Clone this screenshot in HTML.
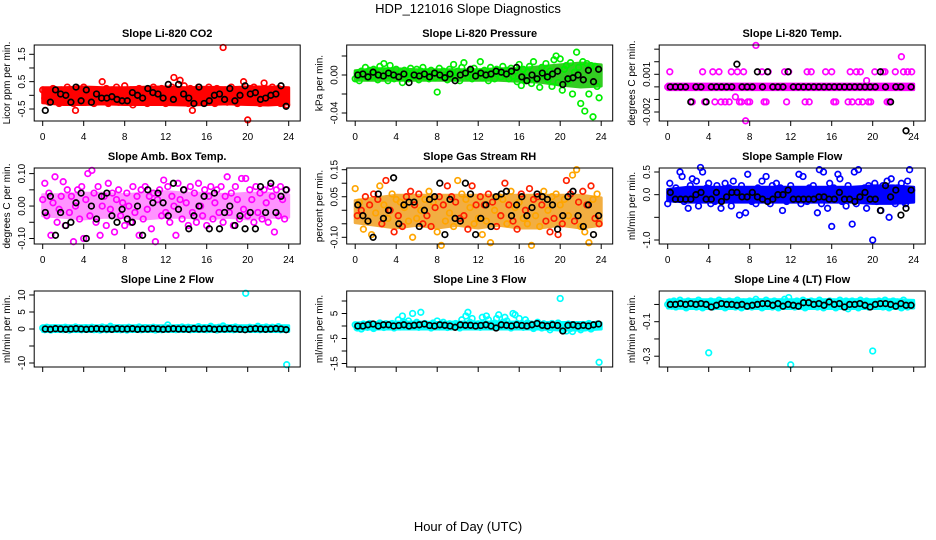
<!DOCTYPE html>
<html><head><meta charset="utf-8">
<style>
html,body{margin:0;padding:0;background:#fff;}
svg{display:block;font-family:"Liberation Sans",Arial,sans-serif;}
</style></head>
<body>
<svg id="chart" width="936" height="540" viewBox="0 0 936 540" xmlns="http://www.w3.org/2000/svg">
<rect x="0" y="0" width="936" height="540" fill="#fff"/>
<text x="468" y="13" text-anchor="middle" font-size="13">HDP_121016  Slope Diagnostics</text>
<text x="468" y="531" text-anchor="middle" font-size="13">Hour of Day (UTC)</text>
<g id="panels"></g>
</svg>
<script>
// ---- data: colored series sampled every 0.2 h (hours = index*0.2), black every 0.5 h from 0.25 h ----
// dense-cloud envelopes (low/high) every 2 hours: 0,2,...,24
const hourTicks = [0,4,8,12,16,20,24];
const hourTickLabels = ["0","4","8","12","16","20","24"];

const co2Vals = [0.2,-0.1,0.15,-0.25,0.1,0.25,-0.2,0.05,-0.3,0.2,
0.0,-0.15,0.3,-0.05,0.15,-0.3,-0.55,0.25,-0.2,0.05,
0.3,-0.25,0.1,-0.1,0.2,-0.3,0.15,0.0,-0.2,0.5,
-0.1,0.25,-0.3,0.05,0.2,-0.15,0.3,-0.25,0.1,-0.05,
0.35,-0.2,0.0,0.2,-0.35,0.15,-0.1,0.25,-0.25,0.05,
0.2,-0.3,0.1,-0.05,0.3,-0.2,0.15,-0.15,0.25,0.0,
-0.3,0.2,-0.1,0.3,0.65,-0.25,0.1,0.55,-0.2,0.35,
0.0,-0.3,0.25,-0.55,0.15,-0.1,0.3,-0.25,0.05,0.2,
-0.2,0.3,-0.05,0.1,-0.3,0.25,0.0,-0.15,1.75,0.2,
-0.25,0.15,0.3,-0.1,0.05,-0.3,0.2,0.1,0.5,-0.2,
-0.9,0.25,-0.15,0.3,-0.05,0.2,-0.3,0.1,0.45,-0.2,
0.15,-0.25,0.3,0.0,-0.1,0.25,-0.3,0.2,0.05,-0.35];
const co2Black = [-0.55,-0.25,0.2,0.05,0.0,-0.25,0.3,-0.2,0.2,-0.25,0.05,-0.1,-0.1,-0.05,-0.15,-0.2,-0.2,0.1,0.0,-0.1,0.25,0.1,0.05,-0.1,0.4,-0.15,0.4,0.05,-0.1,-0.3,0.3,-0.3,-0.2,0.0,0.05,-0.15,0.25,-0.2,0.0,0.35,0.05,0.1,-0.15,-0.1,0.0,0.05,0.35,-0.4];
const co2BandLo = [-0.22,-0.28,-0.28,-0.26,-0.28,-0.28,-0.28,-0.3,-0.28,-0.26,-0.28,-0.3,-0.26];
const co2BandHi = [0.22,0.22,0.25,0.22,0.22,0.24,0.25,0.22,0.24,0.22,0.25,0.25,0.22];

const presVals = [-0.004,0.002,-0.006,0.004,0.0,0.008,-0.003,0.005,-0.002,0.006,
0.003,-0.005,0.009,-0.001,0.012,0.004,-0.006,0.01,0.002,-0.004,
0.006,-0.002,0.003,-0.008,0.005,0.0,-0.004,0.007,0.002,-0.001,
0.006,-0.005,0.004,0.008,-0.002,0.003,-0.004,0.005,0.001,-0.003,
-0.018,0.007,-0.002,0.004,0.0,-0.005,0.006,0.002,0.011,-0.003,
0.004,-0.006,0.008,0.013,0.001,-0.002,0.005,-0.004,0.007,0.0,
0.003,0.014,-0.003,0.005,0.001,-0.006,0.008,0.002,-0.004,0.006,
0.003,-0.002,0.009,0.0,0.005,-0.004,0.007,-0.001,0.004,-0.007,
0.011,-0.011,0.006,-0.006,0.003,0.009,-0.009,0.014,-0.004,0.002,
-0.013,0.008,0.0,0.012,-0.005,0.004,-0.012,0.016,0.02,-0.008,
0.017,-0.016,0.006,0.01,-0.006,0.013,-0.02,0.003,0.024,0.008,
-0.03,0.014,-0.038,0.012,-0.02,0.01,-0.044,0.009,-0.012,-0.024];
const presBlack = [0.0,0.001,-0.002,0.003,0.0,-0.001,0.002,0.0,-0.002,0.001,-0.008,0.0,-0.001,0.001,-0.002,0.002,0.0,-0.003,0.001,-0.006,0.0,0.002,0.006,-0.001,0.002,0.0,0.001,0.004,0.003,0.001,0.004,0.008,-0.002,-0.006,0.0,-0.004,0.002,-0.002,0.001,0.004,-0.01,-0.004,-0.003,0.0,-0.005,0.005,-0.007,0.006];
const presBandLo = [-0.004,-0.004,-0.004,-0.004,-0.004,-0.004,-0.004,-0.004,-0.005,-0.006,-0.009,-0.011,-0.01];
const presBandHi = [0.003,0.005,0.005,0.004,0.004,0.004,0.004,0.005,0.005,0.007,0.009,0.011,0.009];

const tempVals = [0,0.0012,0,0,0,0,0,0,0,0,
0,0,-0.0012,0,0,0,0,0.0012,-0.0012,0,
0,0,0.0012,-0.0012,0,0.0012,-0.0012,0,-0.0012,0,
-0.0012,0.0012,0,-0.0008,0.0012,-0.0012,-0.0012,0.0012,-0.0027,-0.0012,
-0.0012,0,0,0.0033,0,0,0.0012,-0.0012,-0.0012,0.0012,
0,0,0,0,0,0,0,0.0012,-0.0012,0.0012,
0,0,0,0,0,0,0,-0.0012,0.0012,-0.0012,
0.0012,0,0,0,0,0,0,0.0012,0,0,
0.0012,-0.0012,-0.0012,0,0,0,0,0,-0.0012,0.0012,
-0.0012,0,0.0012,-0.0012,0.0012,-0.0012,0,0.0005,-0.0012,-0.0012,
0,0.0012,0,0,0,0.0012,0.0012,-0.0012,-0.0012,0,
0,0.0012,0,0,0.0024,0.0012,0,0.0012,0,0.0012];
const tempBlack = [0,0,0,0,-0.0012,0,0,-0.0012,0,0,0,0,0,0.0018,0,0,0,0.0012,0,0.0012,0,0,0,0.0012,0,0,0,0,0,0,0,0,0,0,0,0,0,0,0,0,0,0.0012,0,-0.0012,0,0,-0.0035,0];
const tempBandLo = [-0.0001,-0.0001,-0.0001,-0.0001,-0.0001,-0.0001,-0.0001,-0.0001,-0.0001,-0.0001,-0.0001,-0.0001,-0.0001];
const tempBandHi = [0.0001,0.0001,0.0001,0.0001,0.0001,0.0001,0.0001,0.0001,0.0001,0.0001,0.0001,0.0001,0.0001];

const boxVals = [0.02,0.07,-0.03,0.04,-0.09,0.01,0.09,-0.05,-0.01,0.03,
0.075,-0.06,0.05,-0.02,0.03,-0.11,0.0,0.05,-0.04,0.06,
-0.1,0.02,0.1,-0.03,0.11,0.04,-0.05,0.06,-0.09,0.0,
0.03,-0.06,0.07,-0.01,0.04,-0.08,0.02,0.05,-0.03,0.01,
-0.06,0.04,0.0,-0.05,0.06,-0.02,0.03,-0.09,0.05,-0.04,
0.06,-0.01,0.03,-0.07,0.04,-0.11,0.02,0.05,-0.03,0.08,
-0.02,0.06,-0.05,0.03,0.0,-0.09,0.07,0.02,-0.04,0.05,
0.01,-0.06,0.06,-0.02,0.04,-0.05,0.07,0.0,-0.03,0.05,
-0.06,0.03,0.06,-0.04,0.01,0.05,-0.02,0.06,-0.05,0.03,
0.09,-0.02,0.04,-0.06,0.06,0.02,-0.04,0.085,-0.01,0.085,
-0.03,0.05,0.02,-0.05,0.06,-0.02,0.04,-0.04,0.05,0.01,
-0.05,0.06,0.03,-0.08,0.05,-0.03,0.06,0.02,-0.04,0.05];
const boxBlack = [-0.02,0.03,-0.09,-0.02,-0.06,-0.05,0.01,0.04,-0.1,0.0,-0.04,0.03,0.04,-0.03,-0.05,-0.01,-0.04,-0.05,0.0,-0.09,0.05,0.01,0.04,0.01,-0.03,0.07,-0.01,0.05,-0.07,-0.03,0.0,0.03,-0.07,0.04,-0.07,-0.02,0.0,-0.06,-0.03,-0.07,-0.02,-0.07,0.06,-0.02,0.07,-0.02,0.03,0.05];
const boxBandLo = [-0.025,-0.03,-0.035,-0.03,-0.03,-0.035,-0.03,-0.03,-0.035,-0.03,-0.035,-0.03,-0.03];
const boxBandHi = [0.03,0.03,0.035,0.035,0.03,0.035,0.04,0.035,0.035,0.03,0.035,0.035,0.03];

const rhVals = [0.08,-0.02,0.03,0.0,-0.07,0.05,-0.04,0.02,-0.09,0.06,
-0.01,0.04,0.09,-0.05,0.02,0.11,-0.03,0.0,0.06,-0.08,
0.04,-0.02,0.03,-0.06,0.01,0.05,-0.04,0.07,-0.1,0.02,
-0.03,0.06,0.0,-0.05,0.04,-0.02,0.07,-0.06,0.03,0.01,
-0.08,0.05,-0.13,0.02,-0.04,0.09,-0.01,0.05,-0.06,0.03,
0.11,-0.03,0.06,-0.02,0.04,-0.07,0.01,0.09,-0.05,0.02,
-0.03,0.05,-0.09,0.02,-0.04,0.06,-0.12,0.03,0.0,-0.06,
0.05,-0.02,0.04,0.1,-0.05,0.02,0.07,-0.04,0.01,-0.07,
0.03,0.06,-0.03,0.0,-0.05,0.08,-0.13,0.04,-0.02,0.05,
-0.06,0.02,0.07,-0.04,0.0,-0.08,0.05,-0.03,0.06,-0.09,
0.02,-0.05,0.04,0.11,-0.02,0.06,0.13,-0.04,0.15,0.03,
-0.06,0.07,-0.08,0.02,-0.12,0.09,0.04,-0.03,0.06,-0.05];
const rhBlack = [0.02,-0.02,-0.04,-0.1,0.06,-0.03,0.0,0.12,-0.05,0.02,0.03,0.03,-0.06,0.0,0.04,0.05,0.1,-0.09,0.04,-0.03,-0.04,0.1,0.06,-0.09,-0.03,0.02,-0.06,0.05,0.06,0.07,-0.02,0.02,0.05,-0.02,0.01,0.06,0.05,0.04,0.02,-0.07,-0.02,0.05,0.07,-0.02,-0.06,0.02,-0.09,-0.02];
const rhBandLo = [-0.04,-0.05,-0.06,-0.05,-0.06,-0.05,-0.06,-0.05,-0.06,-0.06,-0.05,-0.06,-0.05];
const rhBandHi = [0.03,0.04,0.05,0.05,0.05,0.05,0.05,0.05,0.05,0.05,0.05,0.05,0.04];

const flowVals = [-0.2,0.25,0.05,-0.1,0.15,-0.05,0.5,0.4,-0.15,0.1,
-0.3,0.2,0.35,-0.1,0.3,-0.25,0.6,0.5,-0.05,0.15,
0.25,-0.2,0.1,-0.15,0.2,0.0,-0.3,0.05,0.25,-0.1,
0.15,-0.25,0.3,-0.05,0.1,-0.45,0.2,-0.1,-0.4,0.45,
0.05,-0.15,0.1,-0.2,0.15,0.0,0.3,-0.05,0.4,0.1,
-0.2,0.2,-0.1,0.25,-0.05,0.15,-0.35,0.1,-0.15,0.05,
0.2,-0.1,0.1,0.0,0.45,-0.2,0.4,0.05,-0.15,0.15,
-0.1,0.2,0.05,-0.4,0.55,-0.2,0.5,0.1,-0.3,0.25,
-0.7,0.15,-0.05,0.45,0.35,-0.15,0.1,-0.25,0.2,-0.05,
-0.65,0.5,-0.2,0.55,0.05,-0.1,0.15,-0.3,0.2,0.0,
-1.0,0.25,-0.15,0.1,-0.35,0.2,-0.05,0.3,-0.5,0.35,
0.1,-0.2,0.15,-0.1,0.25,-0.15,-0.2,0.3,0.55,0.1];
const flowBlack = [0.05,-0.1,-0.1,-0.1,-0.1,0.0,0.05,-0.1,-0.1,0.05,-0.15,-0.05,0.05,0.05,-0.05,-0.05,0.05,-0.05,-0.1,-0.15,-0.1,0.0,0.0,0.1,-0.1,-0.1,-0.1,-0.1,-0.1,-0.05,-0.05,-0.1,-0.1,0.05,-0.1,-0.1,-0.15,-0.05,0.05,-0.1,-0.1,-0.35,0.2,-0.05,0.1,-0.45,-0.3,0.1];
const flowBandLo = [-0.1,-0.13,-0.13,-0.13,-0.13,-0.13,-0.13,-0.13,-0.13,-0.13,-0.16,-0.16,-0.13];
const flowBandHi = [0.08,0.13,0.13,0.13,0.13,0.13,0.13,0.13,0.13,0.13,0.16,0.16,0.13];

const line2Vals = [0.3,-0.2,0.5,0.1,-0.3,0.2,0.4,-0.1,0.0,0.3,
-0.2,0.5,0.1,-0.3,0.2,0.0,0.6,-0.1,0.3,-0.2,
0.2,0.4,-0.1,0.1,0.5,-0.2,0.3,0.0,-0.3,0.6,
0.1,-0.2,0.3,0.8,-0.1,0.2,0.0,0.4,-0.2,0.3,
0.1,-0.3,0.5,0.2,-0.1,0.0,0.3,0.6,-0.2,0.1,
0.4,-0.1,0.2,0.0,0.5,-0.3,0.2,0.1,-0.2,0.3,
0.0,1.2,-0.1,0.3,0.2,-0.2,0.4,0.0,0.6,-0.1,
0.2,0.5,-0.2,0.1,0.3,0.0,0.7,-0.1,0.2,0.4,
-0.2,0.3,0.8,0.0,0.1,-0.3,0.5,0.2,0.9,-0.1,
0.3,0.0,0.4,-0.2,0.6,0.1,-0.1,0.3,0.2,10.5,
0.2,0.5,-0.1,0.3,0.0,0.8,-0.2,0.4,0.1,0.6,
-0.1,0.3,0.5,0.0,0.2,0.7,-0.2,0.1,0.3,-10.5];
const line2Black = [0.0,-0.1,0.1,0.0,-0.1,0.0,0.1,0.0,-0.1,0.0,0.1,0.0,0.0,-0.1,0.1,0.0,0.0,0.1,-0.1,0.0,0.0,0.1,0.0,-0.1,0.0,0.1,0.0,0.0,-0.1,0.1,0.0,0.0,0.1,-0.1,0.0,0.0,0.1,0.0,-0.1,-0.2,0.0,0.1,0.0,-0.1,0.0,0.1,0.0,-0.2];
const line2BandLo = [-0.3,-0.3,-0.3,-0.3,-0.3,-0.3,-0.3,-0.3,-0.3,-0.3,-0.3,-0.3,-0.3];
const line2BandHi = [0.5,0.5,0.5,0.5,0.5,0.5,0.5,0.5,0.5,0.5,0.5,0.5,0.5];

const line3Vals = [0.5,-0.8,0.3,-1.2,0.8,0.0,-0.5,1.0,0.2,-1.0,
0.6,-0.3,1.2,0.0,-0.6,0.9,0.4,-0.2,1.0,-0.8,
0.3,2.5,-0.4,4.0,1.5,0.6,2.0,-0.3,5.0,0.8,
1.5,-0.5,5.5,0.2,1.0,-0.2,0.6,-0.8,1.2,0.3,
2.0,-0.4,0.8,1.5,0.0,-0.6,0.9,0.2,-0.3,1.0,
0.4,-0.8,2.5,0.0,4.0,5.5,1.5,3.0,-0.2,0.6,
0.9,-0.5,3.5,0.3,4.0,2.5,0.8,-0.4,1.2,3.0,
4.5,0.0,1.5,3.5,2.0,0.6,-0.8,5.0,4.5,1.0,
3.0,0.4,-0.5,2.5,1.2,-0.3,0.8,-1.0,0.5,1.5,
0.2,-0.8,0.9,-0.3,0.6,-1.5,1.0,0.0,-0.6,1.2,
11.0,-1.5,0.4,-2.0,0.8,-1.0,-2.2,0.5,-0.8,0.3,
-1.5,0.6,-0.8,0.2,1.0,-1.2,0.5,-0.4,0.8,-14.5];
const line3Black = [0.0,0.0,0.5,0.8,0.0,0.5,0.5,0.0,0.2,0.5,0.0,0.3,0.5,0.8,0.2,0.0,0.5,0.3,0.0,-0.5,0.5,0.3,0.3,0.0,0.2,0.5,0.0,-0.8,0.5,0.3,0.0,0.5,0.2,0.0,0.5,1.0,0.3,0.0,0.5,0.2,-2.0,0.3,0.5,0.0,0.3,0.0,0.5,0.8];
const line3BandLo = [-0.6,-0.6,-0.6,-0.6,-0.6,-0.6,-0.6,-0.6,-0.6,-0.6,-1.0,-1.0,-0.6];
const line3BandHi = [0.6,0.8,1.0,1.0,0.8,1.0,1.0,1.0,1.0,0.8,0.8,0.8,0.6];

const line4Vals = [0.0,0.015,-0.01,0.02,-0.015,0.005,0.025,-0.005,0.01,-0.02,
0.02,-0.01,0.0,0.015,-0.015,0.025,0.005,-0.02,0.01,-0.005,
-0.28,0.02,-0.015,0.01,0.0,0.025,-0.01,0.015,-0.02,0.005,
0.02,-0.005,0.01,-0.015,0.025,0.0,-0.02,0.015,0.005,-0.01,
0.02,-0.015,0.01,0.03,-0.005,0.015,-0.02,0.0,0.025,-0.01,
0.01,-0.015,0.02,0.005,-0.02,0.015,0.0,0.03,-0.01,0.04,
-0.35,0.01,-0.015,0.02,0.005,-0.01,0.025,-0.02,0.015,0.0,
0.02,-0.01,0.01,-0.015,0.025,0.005,-0.02,0.015,0.0,0.02,
-0.01,0.015,-0.02,0.005,0.025,0.0,-0.015,0.02,-0.025,0.01,
0.02,-0.005,0.015,-0.02,0.025,0.0,-0.01,0.02,-0.015,0.005,
-0.27,0.015,-0.01,0.02,0.0,-0.015,0.025,0.005,-0.02,0.01,
0.02,-0.01,0.015,0.0,-0.02,0.025,0.005,-0.015,0.01,0.0];
const line4Black = [0.0,0.0,0.005,0.0,0.005,0.0,0.005,0.0,-0.015,-0.005,0.005,0.0,0.0,-0.005,0.0,-0.01,-0.005,0.0,0.005,0.005,-0.005,0.005,-0.01,0.0,-0.005,-0.01,0.01,0.01,0.0,0.005,-0.005,0.015,0.0,0.005,-0.015,0.0,0.0,0.005,-0.005,-0.015,0.0,0.005,0.005,0.0,-0.01,0.005,-0.005,-0.005];
const line4BandLo = [-0.012,-0.015,-0.015,-0.015,-0.015,-0.015,-0.015,-0.015,-0.015,-0.015,-0.015,-0.015,-0.012];
const line4BandHi = [0.015,0.018,0.018,0.018,0.018,0.018,0.018,0.018,0.018,0.018,0.018,0.018,0.015];

// tick values per panel
const co2Ticks=[-0.5,0,0.5,1,1.5], co2TickLabels=["-0.5","","0.5","","1.5"];
const presTicks=[-0.04,-0.02,0,0.02], presTickLabels=["-0.04","","0.00",""];
const tempTicks=[-0.002,-0.001,0,0.001,0.002,0.003], tempTickLabels=["-0.002","","","0.001","",""];
const boxTicks=[-0.1,-0.05,0,0.05,0.1], boxTickLabels=["-0.10","","0.00","","0.10"];
const rhTicks=[-0.1,-0.05,0,0.05,0.1,0.15], rhTickLabels=["-0.10","","","0.05","","0.15"];
const flowTicks=[-1,-0.5,0,0.5], flowTickLabels=["-1.0","","0.0","0.5"];
const line2Ticks=[-10,-5,0,5,10], line2TickLabels=["-10","","0","5","10"];
const line3Ticks=[-15,-10,-5,0,5,10], line3TickLabels=["-15","","-5","","5",""];
const line4Ticks=[-0.3,-0.2,-0.1,0], line4TickLabels=["-0.3","","-0.1",""];
</script>
<script>
const NS="http://www.w3.org/2000/svg";
const root=document.getElementById('panels');
function mk(tag,attrs,parent){const e=document.createElementNS(NS,tag);for(const k in attrs)e.setAttribute(k,attrs[k]);parent.appendChild(e);return e;}

const colX0=[42.7,355.2,667.7], rowTop=[45,168,291];
const panels=[
 {name:'co2',title:'Slope Li-820 CO2',ylab:'Licor ppm per min.',vals:co2Vals,blk:co2Black,lo:co2BandLo,hi:co2BandHi,ticks:co2Ticks,tl:co2TickLabels,c:0,r:0,ref:[-0.5,109,1.5,54.3],col:'#ff0000'},
 {name:'pressure',title:'Slope Li-820 Pressure',ylab:'kPa per min.',vals:presVals,blk:presBlack,lo:presBandLo,hi:presBandHi,ticks:presTicks,tl:presTickLabels,c:1,r:0,ref:[-0.04,113,0,75],col:'#00ee00',band:'#33cc22'},
 {name:'temp',title:'Slope Li-820 Temp.',ylab:'degrees C per min.',vals:tempVals,blk:tempBlack,lo:tempBandLo,hi:tempBandHi,ticks:tempTicks,tl:tempTickLabels,c:2,r:0,ref:[-0.002,112,0.001,74.3],col:'#ff00ff'},
 {name:'amb-box-temp',title:'Slope Amb. Box Temp.',ylab:'degrees C per min.',vals:boxVals,blk:boxBlack,lo:boxBandLo,hi:boxBandHi,ticks:boxTicks,tl:boxTickLabels,c:0,r:1,ref:[-0.1,238.5,0.1,173.6],col:'#ff00ff',band:'#ff66ff',op:0.7},
 {name:'gas-stream-rh',title:'Slope Gas Stream RH',ylab:'percent per min.',vals:rhVals,blk:rhBlack,lo:rhBandLo,hi:rhBandHi,ticks:rhTicks,tl:rhTickLabels,c:1,r:1,ref:[-0.1,237.3,0.15,169.7],col:'#ffa500',col2:'#ff2000',band:'#f0a020',op:0.85},
 {name:'sample-flow',title:'Slope Sample Flow',ylab:'ml/min per min.',vals:flowVals,blk:flowBlack,lo:flowBandLo,hi:flowBandHi,ticks:flowTicks,tl:flowTickLabels,c:2,r:1,ref:[-1,240,0.5,172],col:'#0000ff'},
 {name:'line2-flow',title:'Slope Line 2 Flow',ylab:'ml/min per min.',vals:line2Vals,blk:line2Black,lo:line2BandLo,hi:line2BandHi,ticks:line2Ticks,tl:line2TickLabels,c:0,r:2,ref:[-10,363,10,295],col:'#00ffff'},
 {name:'line3-flow',title:'Slope Line 3 Flow',ylab:'ml/min per min.',vals:line3Vals,blk:line3Black,lo:line3BandLo,hi:line3BandHi,ticks:line3Ticks,tl:line3TickLabels,c:1,r:2,ref:[-15,363.5,10,301],col:'#00ffff'},
 {name:'line4-flow',title:'Slope Line 4 (LT) Flow',ylab:'ml/min per min.',vals:line4Vals,blk:line4Black,lo:line4BandLo,hi:line4BandHi,ticks:line4Ticks,tl:line4TickLabels,c:2,r:2,ref:[-0.3,356.2,-0.1,321.7],col:'#00ffff'}
];

panels.forEach(p=>{
  const x0=colX0[p.c], top=rowTop[p.r], bot=top+76, left=x0-8.5, right=x0+257.5;
  const xs=h=>x0+h*246/24;
  const [v1,p1,v2,p2]=p.ref;
  const ys=v=>p1+(v-v1)*(p2-p1)/(v2-v1);
  const g=mk('g',{},root);
  
  
  const t=mk('text',{x:(left+right)/2,y:top-8,'text-anchor':'middle','font-size':'11','font-weight':'bold'},g);
  t.textContent=p.title;
  
  
  const yl=mk('text',{x:0,y:0,transform:`translate(${left-24},${(top+bot)/2}) rotate(-90)`,'text-anchor':'middle','font-size':'10'},g);
  yl.textContent=p.ylab;
  
  
  const upper=p.hi.map((v,k)=>`${xs(k*2).toFixed(1)},${(ys(v)-1.5).toFixed(1)}`);
  const lower=p.lo.map((v,k)=>`${xs(k*2).toFixed(1)},${(ys(v)+1.5).toFixed(1)}`).reverse();
  const band=mk('polygon',{points:upper.concat(lower).join(' '),fill:p.band||p.col,stroke:p.band||p.col,'stroke-width':'3','stroke-linejoin':'round',opacity:p.op||1},g);
  
  
  const pts=mk('g',{fill:'none','stroke-width':'1.7'},g);
  
  
  p.vals.forEach((v,i)=>{
    const c=mk('circle',{cx:xs(i*0.2).toFixed(1),cy:ys(v).toFixed(1),r:2.8,stroke:(p.col2&&i%2)?p.col2:p.col},pts);
    
    
  });
  p.blk.forEach((v,j)=>{
    const c=mk('circle',{cx:xs(j*0.5+0.25).toFixed(1),cy:ys(v).toFixed(1),r:2.8,stroke:'#000'},pts);
    
    
  });
  const b=mk('rect',{x:left,y:top,width:right-left,height:bot-top,fill:'none',stroke:'#000','stroke-width':'1'},g);
  
  
  hourTicks.forEach((h,k)=>{
    mk('line',{x1:xs(h),x2:xs(h),y1:bot,y2:bot+5,stroke:'#000'},g);
    if(p.r<2){
      const tl=mk('text',{x:xs(h),y:bot+19,'text-anchor':'middle','font-size':'10'},g);
      tl.textContent=hourTickLabels[k];
      
      
    }
  });
  p.ticks.forEach((v,k)=>{
    mk('line',{x1:left-5,x2:left,y1:ys(v),y2:ys(v),stroke:'#000'},g);
    if(p.tl[k]){
      const tl=mk('text',{x:0,y:0,transform:`translate(${left-9},${ys(v)}) rotate(-90)`,'text-anchor':'middle','font-size':'10'},g);
      tl.textContent=p.tl[k];
      
      
    }
  });
});
</script>
</body></html>
